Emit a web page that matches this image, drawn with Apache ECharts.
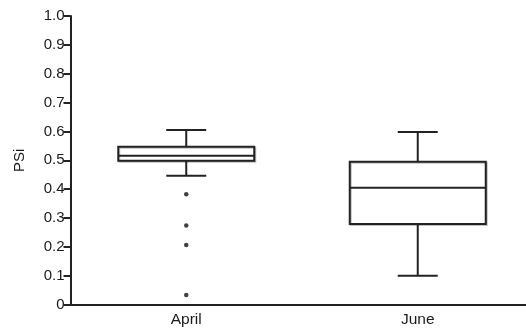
<!DOCTYPE html>
<html>
<head>
<meta charset="utf-8">
<script src="https://cdn.jsdelivr.net/npm/echarts@6/dist/echarts.min.js"></script>
<style>html,body{margin:0;padding:0;background:#fff}#c{width:526px;height:329px}</style>
</head>
<body>
<div id="c"></div>
<script>
var categories = ['April', 'June'];
var lowWhisker = [0.446, 0.100];
var q1 = [0.498, 0.279];
var median = [0.516, 0.405];
var q3 = [0.547, 0.495];
var highWhisker = [0.605, 0.598];
var outliersApril = [0.382, 0.274, 0.206, 0.033];
var yTicks = [0, 0.1, 0.2, 0.3, 0.4, 0.5, 0.6, 0.7, 0.8, 0.9, 1.0];

var boxData = categories.map(function (c, i) {
  return [i, lowWhisker[i], q1[i], median[i], q3[i], highWhisker[i]];
});
var outlierData = outliersApril.map(function (v) { return [0, v]; });

var INK = '#222';
var FONT = 'Liberation Sans, Arial, sans-serif';
var chart = echarts.init(document.getElementById('c'), null, {renderer: 'canvas'});
chart.setOption({
  animation: false,
  grid: {left: 70.5, right: -7.5, top: 16, bottom: 24.5, outerBoundsMode: 'none', containLabel: false},
  xAxis: {
    type: 'category',
    data: categories,
    axisLine: {lineStyle: {color: INK, width: 2}},
    axisTick: {show: false},
    axisLabel: {color: '#1a1a1a', fontFamily: FONT, fontSize: 15.5, margin: 7},
    splitLine: {show: false}
  },
  yAxis: {
    type: 'value',
    min: 0, max: 1, interval: 0.1,
    name: 'PSi',
    nameLocation: 'middle',
    nameGap: 43,
    nameRotate: 90,
    nameTextStyle: {color: '#1a1a1a', fontFamily: FONT, fontSize: 15},
    axisLine: {show: true, lineStyle: {color: INK, width: 2}},
    axisTick: {show: true, length: 7, lineStyle: {color: INK, width: 2}},
    axisLabel: {
      color: '#1a1a1a', fontFamily: FONT, fontSize: 15, margin: 6,
      formatter: function (v) {
        var idx = yTicks.findIndex(function (t) { return Math.abs(t - v) < 1e-9; });
        if (idx < 0) return '';
        return v === 0 ? '0' : yTicks[idx].toFixed(1);
      }
    },
    splitLine: {show: false}
  },
  series: [
    {
      type: 'custom',
      data: boxData,
      renderItem: function (params, api) {
        var x = api.value(0);
        var pLow = api.coord([x, api.value(1)]);
        var pQ1 = api.coord([x, api.value(2)]);
        var pMed = api.coord([x, api.value(3)]);
        var pQ3 = api.coord([x, api.value(4)]);
        var pHigh = api.coord([x, api.value(5)]);
        var cx = pMed[0];
        var hw = 68, cw = 20;
        var ls = {stroke: INK, lineWidth: 2, fill: null};
        return {
          type: 'group',
          children: [
            {type: 'line', shape: {x1: cx, y1: pHigh[1], x2: cx, y2: pQ3[1]}, style: ls},
            {type: 'line', shape: {x1: cx - cw, y1: pHigh[1], x2: cx + cw, y2: pHigh[1]}, style: ls},
            {type: 'line', shape: {x1: cx, y1: pLow[1], x2: cx, y2: pQ1[1]}, style: ls},
            {type: 'line', shape: {x1: cx - cw, y1: pLow[1], x2: cx + cw, y2: pLow[1]}, style: ls},
            {type: 'rect', shape: {x: cx - hw, y: pQ3[1], width: 2 * hw, height: pQ1[1] - pQ3[1]},
              style: {stroke: INK, lineWidth: 2, fill: '#fff', shadowColor: 'rgba(0,0,0,0.25)', shadowOffsetX: 1, shadowOffsetY: 1, shadowBlur: 0}},
            {type: 'line', shape: {x1: cx - hw, y1: pMed[1], x2: cx + hw, y2: pMed[1]}, style: ls}
          ]
        };
      }
    },
    {
      type: 'scatter',
      data: outlierData,
      symbol: 'circle',
      symbolSize: 4.5,
      itemStyle: {color: '#111'}
    }
  ]
});
</script>
</body>
</html>
